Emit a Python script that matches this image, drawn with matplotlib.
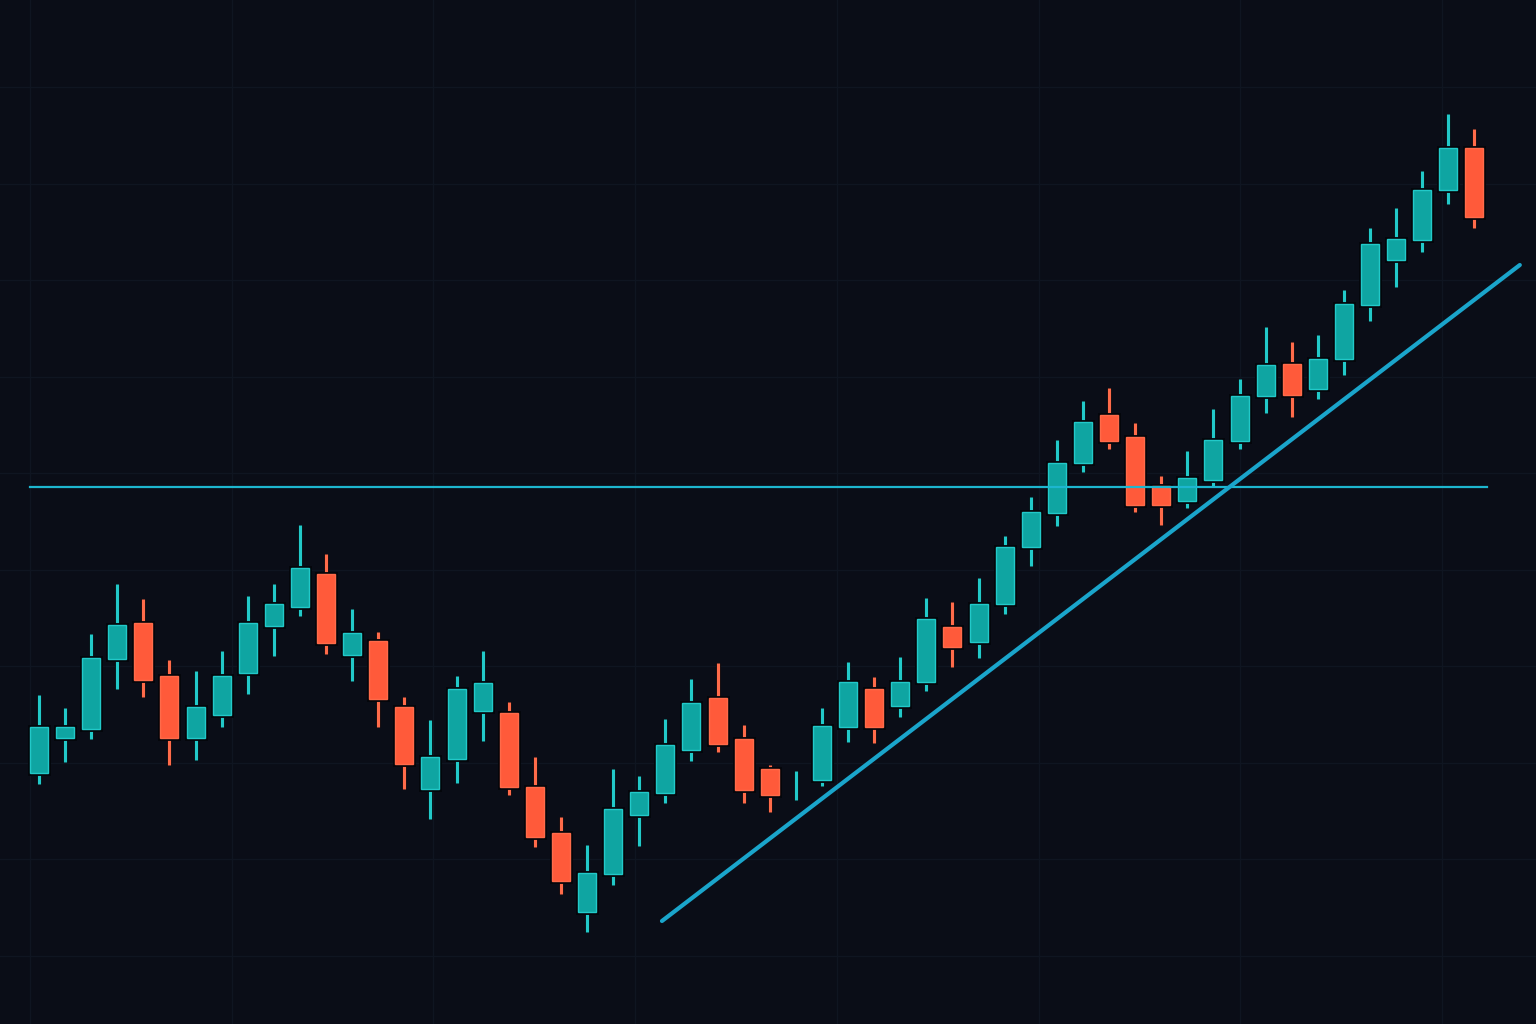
import numpy as np
import matplotlib
matplotlib.use("Agg")
import matplotlib.pyplot as plt
import matplotlib.patheffects as pe

# ---- data (price units) ----
opens = [22.7, 26.2, 27.1, 34.1, 37.7, 32.4, 26.2, 28.5, 32.7, 37.4,
         39.3, 42.6, 34.5, 35.9, 29.3, 21.1, 24.1, 28.9, 28.7, 21.3,
         16.7, 8.8, 12.6, 18.5, 20.7, 25.0, 30.2, 26.1, 23.1, 21.4,
         22.0, 27.3, 31.1, 29.4, 31.8, 37.3, 35.8, 39.6, 45.3, 48.7,
         53.7, 58.5, 56.3, 51.4, 49.9, 52.0, 55.9, 60.4, 63.6, 61.1,
         64.1, 69.5, 74.0, 76.0, 81.0, 85.2]
highs = [30.5, 29.2, 36.6, 41.6, 40.1, 34.0, 32.9, 34.9, 40.4, 41.6,
         47.5, 44.6, 39.1, 36.8, 30.3, 28.0, 32.4, 34.9, 29.8, 24.3,
         18.3, 15.5, 23.1, 22.4, 28.1, 32.1, 33.7, 27.5, 23.5, 22.9,
         29.2, 33.8, 32.3, 34.3, 40.2, 39.8, 42.2, 46.4, 50.3, 56.0,
         59.9, 61.2, 57.7, 52.4, 54.9, 59.1, 62.1, 67.3, 65.8, 66.5,
         71.0, 77.2, 79.2, 82.9, 88.6, 87.1]
lows = [21.6, 23.8, 26.1, 31.1, 30.3, 23.5, 24.0, 27.3, 30.6, 34.4,
        38.4, 34.6, 31.9, 27.3, 21.1, 18.1, 21.7, 25.9, 20.5, 15.3,
        10.6, 6.8, 11.5, 15.4, 19.7, 23.9, 24.8, 19.7, 18.8, 20.0,
        21.4, 25.8, 25.7, 28.3, 30.9, 33.3, 34.2, 38.6, 43.4, 47.4,
        52.8, 55.1, 48.8, 47.5, 49.2, 51.3, 55.1, 58.7, 58.3, 60.1,
        62.5, 67.9, 71.3, 74.8, 79.6, 77.2]
closes = [27.3, 27.3, 34.2, 37.5, 32.0, 26.2, 29.3, 32.4, 37.7, 39.6,
          43.2, 35.7, 36.7, 30.1, 23.6, 24.3, 31.1, 31.7, 21.3, 16.3,
          11.9, 12.7, 19.1, 20.8, 25.5, 29.7, 25.6, 21.0, 20.5, 21.4,
          27.4, 31.8, 27.3, 31.8, 38.1, 35.3, 39.6, 45.3, 48.8, 53.7,
          57.8, 55.9, 49.5, 49.5, 52.2, 56.0, 60.4, 63.5, 60.5, 64.1,
          69.6, 75.6, 76.1, 81.0, 85.2, 78.3]

support_level = 51.3
support_span = [-0.35, 55.5]          # candle index range
trend_start = [23.87, 7.9]            # (index, price)
trend_end = [56.74, 73.5]

# ---- style ----
BG = "#0a0d17"
GRID = "#0f1521"
UP = "#0fa5a2"
UP_EDGE = "#22c9c9"
DOWN = "#ff5a3a"
DOWN_EDGE = "#ff6b4a"
LINE_H = "#1db6cf"
LINE_T = "#1aa5cb"

o = np.array(opens); h = np.array(highs); l = np.array(lows); c = np.array(closes)
x = np.arange(len(o))
up = c >= o

fig = plt.figure(figsize=(15.36, 10.24), dpi=100, facecolor=BG)
ax = fig.add_axes([0, 0, 1, 1])
ax.set_facecolor(BG)
ax.set_xlim(-1.494, 57.36)
ax.set_ylim(-2.4, 100)
for s in ax.spines.values():
    s.set_visible(False)
ax.set_xticks([]); ax.set_yticks([])

# grid
for gy in np.arange(91.3, -2.4, -9.655):
    ax.axhline(gy, color=GRID, lw=1.0, zorder=0)
for gx in np.arange(-0.345, 57.5, 7.73):
    ax.axvline(gx, color=GRID, lw=1.0, zorder=0)

shadow = [pe.withStroke(linewidth=3.5, foreground="#04060b")]

# wicks
ax.vlines(x[up], l[up], h[up], color=UP_EDGE, lw=2.3, zorder=2,
          path_effects=shadow, capstyle="butt")
ax.vlines(x[~up], l[~up], h[~up], color=DOWN_EDGE, lw=2.3, zorder=2,
          path_effects=shadow, capstyle="butt")

# bodies
body_lo = np.minimum(o, c)
body_h = np.abs(c - o)
has_body = body_h > 0
m_up = up & has_body
m_dn = (~up) & has_body
ax.bar(x[m_up], body_h[m_up], bottom=body_lo[m_up], width=0.69,
       color=UP, edgecolor=UP_EDGE, linewidth=1.0, zorder=3, path_effects=shadow)
ax.bar(x[m_dn], body_h[m_dn], bottom=body_lo[m_dn], width=0.69,
       color=DOWN, edgecolor=DOWN_EDGE, linewidth=1.0, zorder=3, path_effects=shadow)

# support line
ax.plot(support_span, [support_level, support_level], color=LINE_H, lw=1.6, zorder=4)
# trend line
ax.plot([trend_start[0], trend_end[0]], [trend_start[1], trend_end[1]],
        color=LINE_T, lw=3.0, solid_capstyle="round", zorder=5)

fig.savefig("out.png", dpi=100, facecolor=BG)
